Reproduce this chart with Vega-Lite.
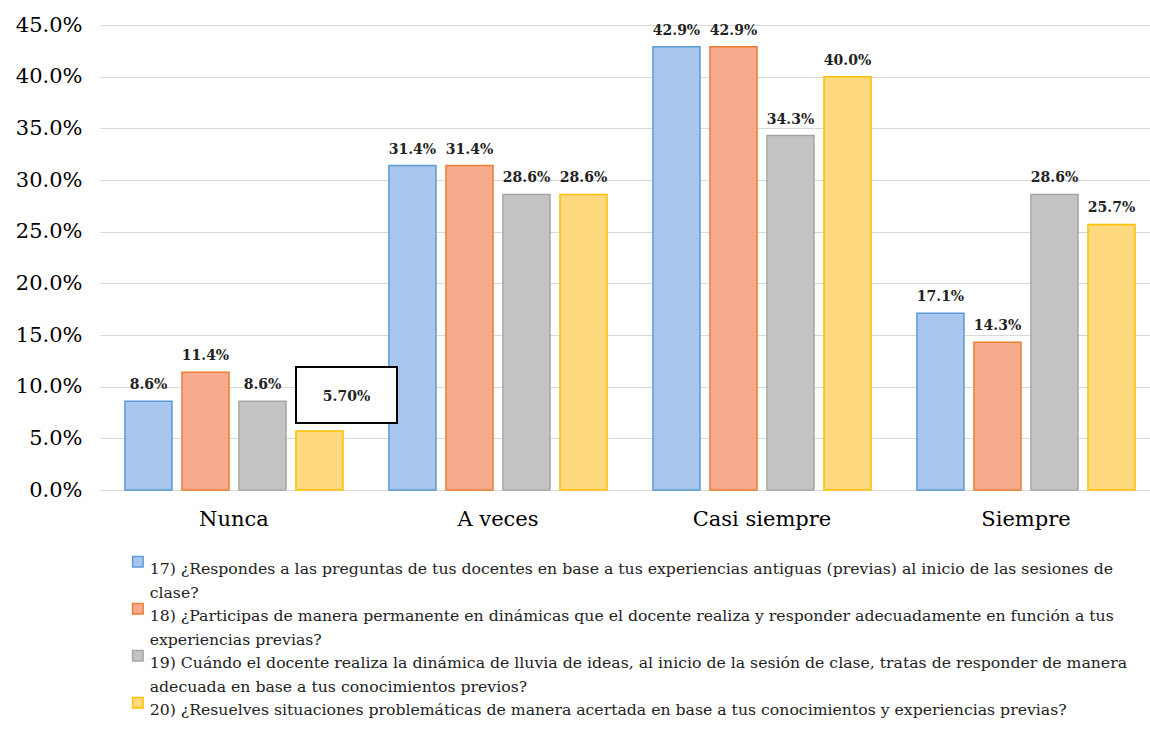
{
  "$schema": "https://vega.github.io/schema/vega-lite/v6.json",
  "width": 1050,
  "height": 465,
  "autosize": {"type": "none"},
  "padding": {"left": 100, "top": 25, "right": 0, "bottom": 241},
  "background": "white",
  "config": {
    "font": "DejaVu Serif",
    "view": {"stroke": null}
  },
  "data": {
    "values": [
      {"cat": "Nunca", "q": "17) ¿Respondes a las preguntas de tus docentes en base a tus  experiencias antiguas (previas) al inicio de las sesiones de|clase?", "pct": 0.086},
      {"cat": "Nunca", "q": "18) ¿Participas de manera permanente en dinámicas que el docente realiza y responder adecuadamente en función  a tus|experiencias previas?", "pct": 0.114},
      {"cat": "Nunca", "q": "19) Cuándo el docente realiza la dinámica de lluvia de ideas, al inicio de la sesión de clase, tratas de responder de manera|adecuada en  base a tus conocimientos previos?", "pct": 0.086},
      {"cat": "Nunca", "q": "20) ¿Resuelves situaciones problemáticas de manera acertada en base a tus conocimientos y experiencias previas?", "pct": 0.057},
      {"cat": "A veces", "q": "17) ¿Respondes a las preguntas de tus docentes en base a tus  experiencias antiguas (previas) al inicio de las sesiones de|clase?", "pct": 0.314},
      {"cat": "A veces", "q": "18) ¿Participas de manera permanente en dinámicas que el docente realiza y responder adecuadamente en función  a tus|experiencias previas?", "pct": 0.314},
      {"cat": "A veces", "q": "19) Cuándo el docente realiza la dinámica de lluvia de ideas, al inicio de la sesión de clase, tratas de responder de manera|adecuada en  base a tus conocimientos previos?", "pct": 0.286},
      {"cat": "A veces", "q": "20) ¿Resuelves situaciones problemáticas de manera acertada en base a tus conocimientos y experiencias previas?", "pct": 0.286},
      {"cat": "Casi siempre", "q": "17) ¿Respondes a las preguntas de tus docentes en base a tus  experiencias antiguas (previas) al inicio de las sesiones de|clase?", "pct": 0.429},
      {"cat": "Casi siempre", "q": "18) ¿Participas de manera permanente en dinámicas que el docente realiza y responder adecuadamente en función  a tus|experiencias previas?", "pct": 0.429},
      {"cat": "Casi siempre", "q": "19) Cuándo el docente realiza la dinámica de lluvia de ideas, al inicio de la sesión de clase, tratas de responder de manera|adecuada en  base a tus conocimientos previos?", "pct": 0.343},
      {"cat": "Casi siempre", "q": "20) ¿Resuelves situaciones problemáticas de manera acertada en base a tus conocimientos y experiencias previas?", "pct": 0.4},
      {"cat": "Siempre", "q": "17) ¿Respondes a las preguntas de tus docentes en base a tus  experiencias antiguas (previas) al inicio de las sesiones de|clase?", "pct": 0.171},
      {"cat": "Siempre", "q": "18) ¿Participas de manera permanente en dinámicas que el docente realiza y responder adecuadamente en función  a tus|experiencias previas?", "pct": 0.143},
      {"cat": "Siempre", "q": "19) Cuándo el docente realiza la dinámica de lluvia de ideas, al inicio de la sesión de clase, tratas de responder de manera|adecuada en  base a tus conocimientos previos?", "pct": 0.286},
      {"cat": "Siempre", "q": "20) ¿Resuelves situaciones problemáticas de manera acertada en base a tus conocimientos y experiencias previas?", "pct": 0.257}
    ]
  },
  "encoding": {
    "x": {
      "field": "cat", "type": "nominal", "sort": ["Nunca", "A veces", "Casi siempre", "Siempre"],
      "scale": {"paddingInner": 0.174, "paddingOuter": 0.0756, "align": 0.625},
      "axis": {"title": null, "labelAngle": 0, "labelFontSize": 21, "labelColor": "#000", "labelPadding": 18, "ticks": false, "domain": false}
    },
    "xOffset": {"field": "q", "type": "nominal", "scale": {"paddingInner": 0.175, "paddingOuter": 0}},
    "y": {
      "field": "pct", "type": "quantitative",
      "scale": {"domain": [0, 0.45], "nice": false},
      "axis": {"title": null, "format": ".1%", "values": [0, 0.05, 0.1, 0.15, 0.2, 0.25, 0.3, 0.35, 0.4, 0.45], "labelFontSize": 21, "labelColor": "#000", "labelPadding": 18, "ticks": false, "domain": false, "gridColor": "#d9d9d9", "gridWidth": 1.2}
    }
  },
  "layer": [
    {
      "mark": {"type": "bar", "strokeWidth": 1.5},
      "encoding": {
        "fill": {
          "field": "q", "type": "nominal",
          "scale": {"range": ["#a9c6ee", "#f6ab8e", "#c4c4c4", "#ffd980"]},
          "legend": {
            "title": null, "orient": "none", "legendX": 30, "legendY": 529, "direction": "vertical",
            "symbolType": "square", "symbolSize": 110, "symbolStrokeWidth": 1.5,
            "labelFontSize": 15.7, "labelColor": "#222", "labelLimit": 1100,
            "labelExpr": "split(datum.value, '|')", "labelBaseline": "top", "labelOffset": 4,
            "rowPadding": -2, "symbolOffset": 0,
            "encode": {"labels": {"update": {"lineHeight": {"value": 24}}}}
          }
        },
        "stroke": {
          "field": "q", "type": "nominal",
          "scale": {"range": ["#5b9bd5", "#ed7d31", "#a5a5a5", "#ffc000"]},
          "legend": null
        }
      }
    },
    {
      "transform": [{"filter": "!(datum.cat == 'Nunca' && indexof(datum.q, '20)') == 0)"}],
      "mark": {"type": "text", "baseline": "bottom", "dy": -9, "fontWeight": "bold", "fontSize": 14, "color": "#222"},
      "encoding": {"text": {"field": "pct", "type": "quantitative", "format": ".1%"}}
    },
    {
      "transform": [{"filter": "datum.cat == 'Nunca' && indexof(datum.q, '20)') == 0"}, {"calculate": "0.092", "as": "boxy"}],
      "mark": {"type": "point", "shape": "M-0.47,-0.56H1.55V0.56H-0.47Z", "size": 10000, "filled": true, "fill": "white", "stroke": "black", "strokeWidth": 2, "opacity": 1},
      "encoding": {"y": {"field": "boxy", "type": "quantitative"}}
    },
    {
      "transform": [{"filter": "datum.cat == 'Nunca' && indexof(datum.q, '20)') == 0"}, {"calculate": "0.09", "as": "boxy"}],
      "mark": {"type": "text", "baseline": "middle", "dx": 27, "fontWeight": "bold", "fontSize": 14, "color": "#222"},
      "encoding": {"y": {"field": "boxy", "type": "quantitative"}, "text": {"value": "5.70%"}}
    }
  ]
}
